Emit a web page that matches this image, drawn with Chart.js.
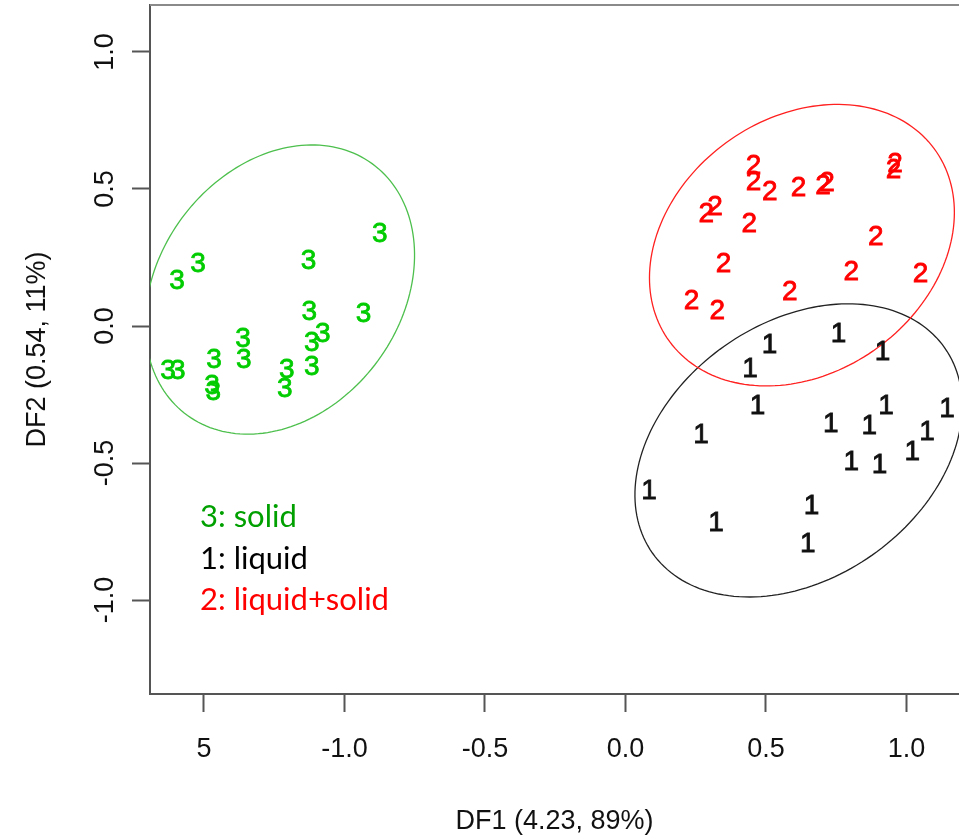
<!DOCTYPE html>
<html>
<head>
<meta charset="utf-8">
<script src="https://cdn.jsdelivr.net/npm/chart.js@4"></script>
<style>
  html, body { margin: 0; padding: 0; background: #fff; }
  #wrap { width: 959px; height: 839px; }
</style>
</head>
<body>
<div id="wrap"><canvas id="dfaChart"></canvas></div>
<script>
/* data (DF1, DF2) */

const groupLabels = ["1", "2", "3"];
const groupNames = ["liquid", "liquid+solid", "solid"];

const liquidX = [0.513, 0.443, 0.758, 0.915, 0.470, 0.269, 0.731, 0.868, 0.927, 1.144, 1.073, 1.021, 0.804, 0.904, 0.084, 0.322, 0.662, 0.649];
const liquidY = [-0.060, -0.148, -0.020, -0.088, -0.283, -0.389, -0.349, -0.358, -0.283, -0.294, -0.380, -0.451, -0.487, -0.500, -0.595, -0.712, -0.651, -0.788];

const mixedX = [0.456, 0.456, 0.514, 0.616, 0.703, 0.717, 0.959, 0.954, 0.288, 0.319, 0.441, 0.891, 0.349, 0.804, 1.050, 0.585, 0.235, 0.327];
const mixedY = [0.593, 0.533, 0.496, 0.511, 0.520, 0.531, 0.600, 0.577, 0.418, 0.442, 0.381, 0.332, 0.235, 0.204, 0.199, 0.131, 0.100, 0.064];

const solidX = [-0.874, -1.128, -1.521, -1.596, -1.125, -0.932, -1.077, -1.116, -1.361, -1.358, -1.464, -1.116, -1.205, -1.212, -1.628, -1.593, -1.471, -1.467];
const solidY = [0.343, 0.246, 0.235, 0.173, 0.058, 0.053, -0.022, -0.055, -0.040, -0.117, -0.117, -0.142, -0.153, -0.223, -0.157, -0.155, -0.212, -0.234];

// group ellipses: centre, semi axes, tilt (degrees)
const ellipseCX = [0.616, 0.628, -1.230];
const ellipseCY = [-0.454, 0.295, 0.133];
const ellipseA = [0.641, 0.588, 0.565];
const ellipseB = [0.463, 0.461, 0.435];
const ellipseTilt = [37.2, 38.4, 56.0];

const xTickValues = [-1.5, -1.0, -0.5, 0.0, 0.5, 1.0];
const xTickLabels = ["5", "-1.0", "-0.5", "0.0", "0.5", "1.0"];
const yTickValues = [-1.0, -0.5, 0.0, 0.5, 1.0];
const yTickLabels = ["-1.0", "-0.5", "0.0", "0.5", "1.0"];

const legendLines = ["3: solid", "1: liquid", "2: liquid+solid"];

/* styles */
const pointColors = ["#111111", "#ff0000", "#00cc00"];
const ellipseColors = ["#222222", "#ff2020", "#4cbf4c"];
const legendColors = ["#00a000", "#000000", "#ff0000"];
const axisColor = "#555555";
const textFont = "'Liberation Sans', Arial, sans-serif";

function toPoints(xs, ys) {
    return xs.map((x, i) => ({ x: x, y: ys[i] }));
}

const groupData = [
    toPoints(liquidX, liquidY),
    toPoints(mixedX, mixedY),
    toPoints(solidX, solidY)
];

/* plugins */

const framePlugin = {
    id: "frame",
    beforeDatasetsDraw(chart) {
        const { ctx, chartArea: a } = chart;
        ctx.save();
        ctx.strokeStyle = "#8a8a8a";
        ctx.lineWidth = 2;
        ctx.beginPath();
        ctx.moveTo(a.left, a.top);
        ctx.lineTo(a.right, a.top);
        ctx.stroke();
        ctx.restore();
    }
};

const ellipsePlugin = {
    id: "ellipses",
    afterDatasetsDraw(chart) {
        const { ctx, chartArea: a } = chart;
        const xs = chart.scales.x, ys = chart.scales.y;
        ctx.save();
        ctx.beginPath();
        ctx.rect(a.left, a.top, a.right - a.left, a.bottom - a.top);
        ctx.clip();
        ctx.lineWidth = 1.3;
        ellipseCX.forEach((cx, g) => {
            const th = ellipseTilt[g] * Math.PI / 180;
            ctx.strokeStyle = ellipseColors[g];
            ctx.beginPath();
            for (let k = 0; k <= 180; k++) {
                const t = k / 180 * Math.PI * 2;
                const ex = ellipseA[g] * Math.cos(t), ey = ellipseB[g] * Math.sin(t);
                const dx = cx + ex * Math.cos(th) - ey * Math.sin(th);
                const dy = ellipseCY[g] + ex * Math.sin(th) + ey * Math.cos(th);
                const px = xs.getPixelForValue(dx), py = ys.getPixelForValue(dy);
                if (k === 0) ctx.moveTo(px, py); else ctx.lineTo(px, py);
            }
            ctx.stroke();
        });
        ctx.restore();
    }
};

// each point is drawn as its group number, like R's text()
const digitPlugin = {
    id: "digits",
    afterDatasetsDraw(chart) {
        const ctx = chart.ctx;
        const size = 28;
        ctx.save();
        ctx.font = size + "px " + textFont;
        ctx.textAlign = "center";
        ctx.textBaseline = "alphabetic";
        ctx.lineWidth = 0.8;
        chart.data.datasets.forEach((ds, i) => {
            ctx.fillStyle = pointColors[i];
            ctx.strokeStyle = pointColors[i];
            chart.getDatasetMeta(i).data.forEach(el => {
                ctx.fillText(groupLabels[i], el.x, el.y + size * 0.36);
                ctx.strokeText(groupLabels[i], el.x, el.y + size * 0.36);
            });
        });
        ctx.restore();
    }
};

const notePlugin = {
    id: "notes",
    afterDraw(chart) {
        const ctx = chart.ctx;
        const x0 = chart.scales.x.getPixelForValue(-1.514);
        const y0 = chart.scales.y.getPixelForValue(-0.734);
        ctx.save();
        ctx.font = "31px Lato, 'Open Sans', sans-serif";
        ctx.textAlign = "left";
        ctx.textBaseline = "alphabetic";
        legendLines.forEach((txt, i) => {
            ctx.fillStyle = legendColors[i];
            ctx.fillText(txt, x0, y0 + i * 41.5);
        });
        ctx.restore();
    }
};

/* chart */

const ctx = document.getElementById("dfaChart");

new Chart(ctx, {
    type: "scatter",
    data: {
        datasets: groupData.map((pts, i) => ({
            label: groupNames[i],
            data: pts,
            pointRadius: 0,
            pointHoverRadius: 0,
            backgroundColor: pointColors[i],
            borderColor: pointColors[i]
        }))
    },
    options: {
        responsive: true,
        maintainAspectRatio: false,
        animation: false,
        events: [],
        layout: { padding: { top: 5, left: 0, right: 0, bottom: 0 } },
        plugins: {
            legend: { display: false },
            tooltip: { enabled: false }
        },
        scales: {
            x: {
                type: "linear",
                min: -1.692,
                max: 1.187,
                afterBuildTicks: s => { s.ticks = xTickValues.map(v => ({ value: v })); },
                afterFit: s => { s.height = 145; s.paddingLeft = 0; s.paddingRight = 0; },
                grid: {
                    display: true,
                    drawOnChartArea: false,
                    drawTicks: true,
                    tickLength: 18,
                    tickWidth: 2,
                    tickColor: axisColor
                },
                border: { display: true, color: axisColor, width: 2 },
                ticks: {
                    color: "#111111",
                    font: { family: textFont, size: 27 },
                    padding: 21,
                    maxRotation: 0,
                    autoSkip: false,
                    callback: v => {
                        const i = xTickValues.indexOf(v);
                        return i >= 0 ? xTickLabels[i] : "";
                    }
                },
                title: {
                    display: true,
                    text: "DF1 (4.23, 89%)",
                    color: "#111111",
                    font: { family: textFont, size: 27 },
                    padding: { top: 0, bottom: 1 }
                }
            },
            y: {
                type: "linear",
                min: -1.343,
                max: 1.1715,
                afterBuildTicks: s => { s.ticks = yTickValues.map(v => ({ value: v })); },
                afterFit: s => { s.width = 150; s.paddingTop = 0; s.paddingBottom = 0; },
                grid: {
                    display: true,
                    drawOnChartArea: false,
                    drawTicks: true,
                    tickLength: 18,
                    tickWidth: 2,
                    tickColor: axisColor
                },
                border: { display: true, color: axisColor, width: 2 },
                ticks: {
                    color: "#111111",
                    font: { family: textFont, size: 27 },
                    padding: 3,
                    minRotation: 90,
                    maxRotation: 90,
                    crossAlign: "center",
                    autoSkip: false,
                    callback: v => {
                        const i = yTickValues.indexOf(v);
                        return i >= 0 ? yTickLabels[i] : "";
                    }
                },
                title: {
                    display: true,
                    text: "DF2 (0.54, 11%)",
                    color: "#111111",
                    font: { family: textFont, size: 27 },
                    padding: { top: 21, bottom: 0 }
                }
            }
        }
    },
    plugins: [framePlugin, ellipsePlugin, digitPlugin, notePlugin]
});
</script>
</body>
</html>
